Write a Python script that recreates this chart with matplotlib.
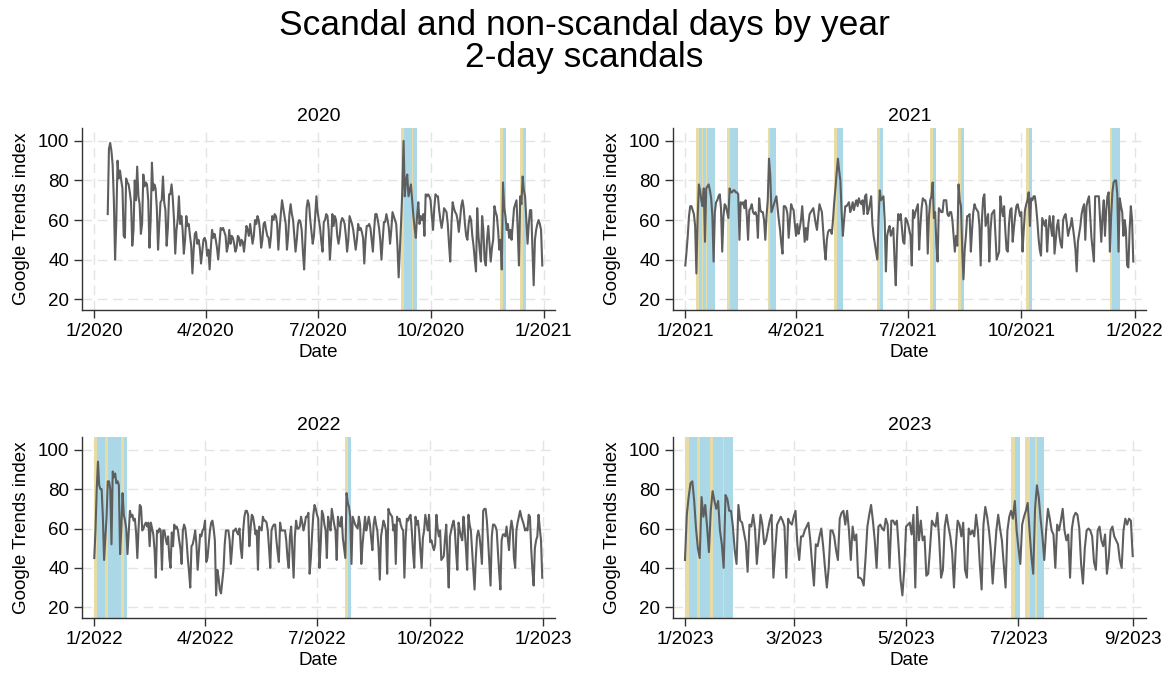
import datetime as dt
import numpy as np
import matplotlib
matplotlib.use('Agg')
import matplotlib.pyplot as plt
import matplotlib.dates as mdates

plt.rcParams['font.family'] = ['Liberation Sans', 'DejaVu Sans']

# Google Trends index, one value per day
# 2020 starts on Jan 12, the other years on Jan 1
trend_2020 = [
    63, 96, 99, 95, 88, 70, 40,
    60, 90, 81, 85, 80, 76, 52,
    51, 81, 79, 78, 74, 69, 47,
    55, 80, 70, 87, 72, 68, 53,
    58, 83, 77, 79, 78, 70, 46,
    60, 89, 75, 78, 76, 66, 45,
    58, 69, 70, 82, 69, 65, 47,
    56, 73, 73, 78, 71, 60, 43,
    55, 60, 72, 58, 62, 55, 43,
    50, 62, 57, 58, 52, 47, 33,
    45, 53, 54, 48, 50, 46, 38,
    44, 50, 51, 49, 42, 45, 35,
    46, 55, 51, 53, 50, 46, 40,
    48, 56, 55, 56, 54, 52, 44,
    47, 55, 48, 52, 51, 48, 44,
    46, 52, 51, 47, 50, 49, 44,
    50, 57, 55, 52, 58, 53, 48,
    52, 60, 58, 62, 60, 55, 46,
    50, 58, 59, 55, 52, 51, 46,
    52, 62, 60, 63, 62, 58, 45,
    55, 63, 70, 66, 62, 58, 45,
    52, 63, 68, 63, 60, 52, 44,
    50, 58, 60, 59, 55, 44, 35,
    50, 66, 70, 68, 60, 54, 48,
    52, 62, 72, 64, 60, 56, 49,
    44, 59, 60, 63, 62, 55, 40,
    50, 63, 57, 62, 60, 52, 48,
    52, 59, 61, 60, 58, 52, 44,
    50, 62, 60, 58, 55, 50, 45,
    50, 58, 55, 56, 54, 51, 38,
    50, 57, 57, 58, 56, 50, 44,
    55, 63, 63, 60, 56, 50, 40,
    50, 59, 59, 63, 60, 56, 48,
    55, 64, 62, 60, 58, 47, 31,
    45, 59, 75, 100, 72, 80, 83,
    72, 75, 78, 70, 62, 56, 51,
    62, 69, 58, 62, 60, 63, 52,
    73, 72, 73, 72, 70, 62, 55,
    66, 73, 72, 72, 65, 60, 56,
    60, 66, 65, 64, 58, 48, 39,
    58, 69, 66, 64, 63, 60, 54,
    60, 67, 70, 66, 58, 52, 50,
    58, 62, 60, 52, 47, 40, 34,
    66, 52, 45, 39, 62, 55, 40,
    37, 50, 57, 48, 39, 46, 50,
    67, 64, 62, 55, 45, 50, 35,
    79, 66, 62, 55, 58, 51, 55,
    50, 58, 66, 68, 70, 55, 37,
    72, 68, 82, 75, 72, 60, 48,
    58, 65, 65, 45, 27, 50, 55,
    58, 60, 58, 55, 37,
]

trend_2021 = [
    37, 44, 52, 62, 67, 67, 65, 63, 57, 33,
    60, 78, 75, 70, 67, 76, 49, 76, 77, 78,
    75, 71, 62, 39, 64, 69, 70, 72, 73, 66,
    44, 62, 68, 67, 64, 61, 76, 74, 74, 75,
    75, 74, 74, 73, 50, 69, 68, 69, 66, 70,
    62, 50, 65, 66, 68, 64, 63, 64, 62, 51,
    71, 65, 64, 64, 60, 50, 62, 70, 91, 83,
    64, 66, 68, 70, 72, 66, 60, 55, 48, 43,
    67, 67, 66, 63, 51, 60, 68, 66, 65, 58,
    52, 58, 53, 56, 60, 67, 58, 49, 56, 50,
    58, 63, 64, 65, 66, 62, 58, 55, 62, 68,
    66, 64, 55, 46, 40, 50, 54, 55, 55, 53,
    60, 69, 76, 84, 91, 85, 80, 64, 52, 60,
    67, 67, 68, 69, 64, 66, 69, 65, 68, 70,
    67, 71, 69, 68, 70, 63, 72, 73, 63, 65,
    68, 72, 58, 52, 48, 44, 40, 60, 75, 70,
    71, 72, 60, 34, 52, 55, 57, 52, 54, 56,
    40, 27, 50, 63, 60, 63, 56, 49, 48, 61,
    60, 58, 55, 52, 37, 65, 61, 64, 66, 68,
    45, 57, 66, 71, 70, 70, 67, 43, 62, 70,
    72, 79, 61, 64, 48, 39, 66, 65, 64, 64,
    70, 70, 70, 63, 62, 64, 64, 60, 52, 44,
    52, 47, 78, 70, 67, 45, 30, 45, 52, 62,
    62, 63, 44, 55, 64, 68, 66, 65, 64, 57,
    37, 60, 71, 73, 57, 60, 63, 39, 55, 63,
    64, 65, 52, 40, 42, 44, 72, 66, 62, 67,
    55, 45, 44, 58, 65, 66, 49, 56, 62, 67,
    68, 65, 62, 64, 44, 55, 65, 68, 70, 74,
    57, 71, 70, 72, 72, 67, 60, 51, 45, 42,
    61, 59, 57, 60, 44, 55, 62, 57, 52, 62,
    43, 50, 57, 60, 52, 48, 46, 60, 62, 63,
    58, 52, 55, 57, 61, 56, 51, 45, 34, 49,
    53, 57, 63, 66, 68, 50, 67, 70, 72, 62,
    51, 45, 39, 72, 72, 72, 72, 60, 49, 62,
    70, 52, 65, 72, 74, 44, 62, 74, 79, 80,
    80, 73, 44, 71, 67, 64, 52, 60, 55, 37,
    36, 55, 67, 60, 39,
]

trend_2022 = [
    45, 59, 80, 94, 82, 80, 80, 66, 44, 55,
    66, 84, 84, 80, 52, 89, 86, 88, 83, 84,
    82, 47, 60, 78, 67, 64, 60, 47, 58, 69,
    66, 67, 64, 65, 58, 45, 60, 72, 71, 59,
    60, 62, 63, 61, 63, 51, 63, 60, 57, 49,
    35, 59, 58, 60, 59, 39, 59, 59, 55, 52,
    56, 45, 40, 58, 51, 62, 60, 61, 59, 54,
    50, 42, 59, 62, 60, 54, 45, 38, 30, 51,
    52, 55, 59, 52, 39, 48, 57, 56, 59, 60,
    64, 43, 45, 52, 59, 63, 64, 60, 54, 26,
    39, 35, 29, 27, 33, 39, 52, 59, 59, 59,
    54, 42, 50, 59, 59, 60, 58, 57, 60, 50,
    45, 59, 66, 69, 69, 67, 51, 60, 67, 66,
    62, 57, 59, 39, 61, 60, 59, 66, 64, 64,
    63, 59, 50, 40, 59, 61, 62, 62, 54, 48,
    43, 63, 59, 59, 59, 59, 54, 45, 40, 56,
    61, 48, 35, 56, 64, 60, 60, 61, 66, 63,
    59, 62, 66, 66, 68, 37, 45, 57, 67, 72,
    70, 67, 65, 40, 52, 69, 67, 62, 59, 45,
    66, 62, 59, 70, 66, 62, 59, 44, 66, 62,
    61, 66, 55, 50, 45, 78, 73, 71, 66, 42,
    66, 64, 62, 61, 60, 66, 62, 42, 52, 59,
    66, 59, 62, 66, 62, 55, 49, 62, 66, 62,
    59, 50, 34, 56, 60, 64, 62, 59, 37, 70,
    68, 67, 66, 59, 62, 42, 66, 64, 65, 62,
    60, 59, 35, 55, 65, 64, 66, 67, 59, 48,
    40, 66, 62, 64, 58, 49, 40, 55, 59, 67,
    63, 59, 67, 53, 54, 51, 49, 52, 67, 60,
    56, 59, 44, 45, 46, 55, 62, 45, 30, 56,
    59, 62, 64, 59, 48, 39, 63, 59, 56, 54,
    66, 59, 50, 39, 67, 62, 59, 49, 39, 29,
    45, 56, 59, 56, 50, 42, 69, 70, 70, 64,
    54, 42, 31, 56, 62, 62, 61, 59, 48, 38,
    29, 54, 57, 57, 56, 61, 55, 49, 59, 64,
    60, 45, 40, 59, 63, 66, 69, 66, 64, 62,
    59, 60, 59, 67, 66, 50, 39, 31, 50, 54,
    56, 67, 60, 54, 35,
]

# 2023 runs from Jan 1 to Sep 1
trend_2023 = [
    44, 67, 76, 83, 84, 74, 60, 50, 45, 76,
    66, 72, 61, 48, 69, 79, 74, 70, 74, 59,
    52, 40, 77, 75, 69, 69, 61, 49, 42, 72,
    64, 63, 58, 53, 38, 62, 61, 67, 60, 42,
    54, 67, 62, 52, 54, 59, 64, 67, 35, 49,
    62, 64, 66, 64, 61, 35, 65, 63, 62, 66,
    69, 52, 44, 56, 56, 59, 61, 63, 54, 42,
    31, 52, 51, 56, 60, 51, 40, 30, 40, 59,
    59, 56, 49, 44, 65, 68, 69, 62, 69, 59,
    44, 61, 54, 57, 35, 35, 34, 31, 45, 61,
    67, 72, 64, 54, 40, 61, 62, 60, 59, 65,
    62, 40, 64, 64, 62, 64, 50, 34, 26, 39,
    61, 62, 63, 57, 67, 30, 71, 54, 64, 54,
    56, 36, 37, 50, 64, 62, 61, 68, 54, 35,
    39, 61, 67, 61, 56, 48, 30, 51, 64, 62,
    56, 63, 39, 35, 60, 57, 59, 56, 67, 59,
    42, 29, 62, 71, 66, 59, 49, 32, 46, 59,
    67, 60, 54, 42, 30, 59, 66, 69, 65, 74,
    59, 50, 42, 62, 66, 69, 73, 59, 46, 37,
    70, 82, 76, 65, 56, 44, 59, 70, 65, 59,
    57, 40, 62, 59, 64, 70, 59, 54, 57, 35,
    60, 66, 68, 67, 60, 42, 32, 50, 59, 60,
    59, 56, 43, 39, 59, 61, 54, 51, 57, 37,
    45, 59, 61, 56, 54, 52, 44, 40, 59, 65,
    62, 65, 64, 46,
]

# first scandal day of each event, counted in days from Jan 1
scandals_2020 = [252, 254, 256, 260, 333, 349]
scandals_2021 = [11, 14, 18, 21, 36, 38, 40, 69, 71, 123, 125, 158, 201, 224,
                 279, 347, 350]
scandals_2022 = [2, 4, 6, 11, 13, 15, 17, 19, 24, 206]
scandals_2023 = [2, 4, 8, 11, 15, 18, 21, 23, 179, 187, 191, 192]

ticks_year = ['1/{y}', '4/{y}', '7/{y}', '10/{y}', '1/{n}']
ticks_2023 = ['1/2023', '3/2023', '5/2023', '7/2023', '9/2023']

line_col = '#5e5e5e'
tan = '#e8dca6'
blue = '#aad8e6'
grid_col = '#e4e4e4'

fig = plt.figure(figsize=(11.69, 6.75), dpi=100)

panels = [
    (2020, dt.date(2020, 1, 12), trend_2020, scandals_2020, [0.0701, 0.5407, 0.4046, 0.2696]),
    (2021, dt.date(2021, 1, 1), trend_2021, scandals_2021, [0.5757, 0.5407, 0.4046, 0.2696]),
    (2022, dt.date(2022, 1, 1), trend_2022, scandals_2022, [0.0701, 0.0844, 0.4046, 0.2681]),
    (2023, dt.date(2023, 1, 1), trend_2023, scandals_2023, [0.5757, 0.0844, 0.4046, 0.2681]),
]

for year, first, vals, scandals, pos in panels:
    ax = fig.add_axes(pos)
    jan1 = mdates.date2num(dt.date(year, 1, 1))
    x = mdates.date2num(first) + np.arange(len(vals))

    # non-scandal (tan) days first, scandal (blue) days drawn over them
    for d in scandals:
        ax.axvspan(jan1 + d - 2.2, jan1 + d, color=tan, lw=0, zorder=1)
    for d in scandals:
        ax.axvspan(jan1 + d, jan1 + d + 2.8, color=blue, lw=0, zorder=1)

    ax.plot(x, vals, color=line_col, lw=1.5, zorder=3)

    if year == 2023:
        tick_dates = [dt.date(2023, m, 1) for m in (1, 3, 5, 7, 9)]
        labels = ticks_2023
        ax.set_xlim(jan1 - 6.5, mdates.date2num(dt.date(2023, 9, 1)) + 7.2)
    else:
        tick_dates = [dt.date(year, m, 1) for m in (1, 4, 7, 10)] + [dt.date(year + 1, 1, 1)]
        labels = [t.format(y=year, n=year + 1) for t in ticks_year]
        ax.set_xlim(jan1 - 10, mdates.date2num(dt.date(year + 1, 1, 1)) + 9.3)
    ax.set_xticks(mdates.date2num(tick_dates))
    ax.set_xticklabels(labels)

    ax.set_ylim(14.5, 106.5)
    ax.set_yticks([20, 40, 60, 80, 100])

    ax.set_axisbelow(True)
    ax.grid(True, color=grid_col, linestyle=(0, (7, 4)), lw=1.0)
    for side in ['top', 'right']:
        ax.spines[side].set_visible(False)
    for side in ['left', 'bottom']:
        ax.spines[side].set_color('#333333')
        ax.spines[side].set_linewidth(1.0)
    ax.tick_params(direction='out', length=6, width=1, color='#333333',
                   labelsize=13.5, pad=3)

    ax.set_title(str(year), fontsize=14, pad=5)
    ax.set_xlabel('Date', fontsize=13.5, labelpad=3)
    ax.set_ylabel('Google Trends index', fontsize=13.5, labelpad=6)

fig.text(0.5, 1 - 25 / 675, 'Scandal and non-scandal days by year',
         ha='center', va='center', fontsize=25.5)
fig.text(0.5, 1 - 58 / 675, '2-day scandals', ha='center', va='center', fontsize=25.5)

fig.savefig('out.png', dpi=100)
